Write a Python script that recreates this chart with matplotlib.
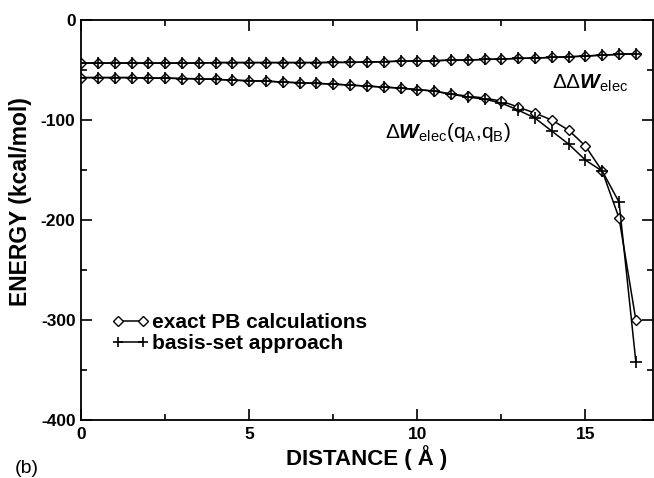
import matplotlib
matplotlib.use("Agg")
import matplotlib.pyplot as plt
from matplotlib.ticker import MultipleLocator

plt.rcParams['font.family'] = ['Liberation Sans', 'DejaVu Sans']
plt.rcParams['axes.unicode_minus'] = False
plt.rcParams['mathtext.fontset'] = 'custom'
plt.rcParams['mathtext.rm'] = 'Liberation Sans'
plt.rcParams['mathtext.it'] = 'Liberation Sans:italic'
plt.rcParams['mathtext.bf'] = 'Liberation Sans:bold'
plt.rcParams['mathtext.bfit'] = 'Liberation Sans:italic:bold'

distance = [0.0, 0.5, 1.0, 1.5, 2.0, 2.5, 3.0, 3.5, 4.0, 4.5, 5.0, 5.5,
            6.0, 6.5, 7.0, 7.5, 8.0, 8.5, 9.0, 9.5, 10.0, 10.5, 11.0, 11.5,
            12.0, 12.5, 13.0, 13.5, 14.0, 14.5, 15.0, 15.5, 16.0, 16.5]

# Delta-Delta W_elec
ddw_exact = [-43, -43, -43, -43, -43, -43, -43, -43, -42.5, -42.5, -42.5, -42.5,
             -42.5, -42.5, -42.5, -42.3, -42.3, -42, -41.7, -41, -41, -40.7, -40, -40,
             -39.3, -39, -38.3, -38, -37.3, -36.7, -36, -35, -34.3, -33.5]
ddw_basis = [-43, -43, -43, -43, -43, -43, -43, -43, -42.5, -42.5, -42.5, -42.5,
             -42.5, -42.5, -42.5, -42.3, -42.3, -42, -41.7, -41, -41, -40.7, -40, -40,
             -39.3, -39, -38.3, -38, -37.3, -36.7, -36, -35, -34.3, -33.5]

# Delta W_elec(qA, qB)
dw_exact = [-57.5, -57.5, -57.5, -57.5, -58, -58, -58.5, -58.7, -59.3, -60, -60.7, -61,
            -62, -62.7, -63.3, -64, -65, -66, -67, -68, -69.5, -71, -74, -76,
            -78, -81, -87, -93, -100, -110, -126, -151, -198, -300]
dw_basis = [-57.5, -57.5, -57.5, -57.5, -58, -58, -58.5, -58.7, -59.3, -60, -60.7, -61,
            -62, -62.7, -63.3, -64, -65, -66, -67, -68, -69.5, -71, -74, -77,
            -79, -83, -90, -98, -111, -124, -140, -151, -182, -342]

fig = plt.figure(figsize=(6.54, 4.78), dpi=100)
ax = fig.add_axes([0.124, 0.121, 0.874, 0.837])

lw = 1.1
ax.plot(distance, ddw_exact, color='black', lw=lw, marker='D', ms=5.5,
        mfc='white', mec='black', mew=1.0, label='exact PB calculations', zorder=3)
ax.plot(distance, ddw_basis, color='black', lw=lw, marker='+', ms=9,
        mew=1.2, label='basis-set approach', zorder=4)
ax.plot(distance, dw_exact, color='black', lw=lw, marker='D', ms=5.5,
        mfc='white', mec='black', mew=1.0, zorder=3)
ax.plot(distance, dw_basis, color='black', lw=lw, marker='+', ms=9,
        mew=1.2, zorder=4)

ax.set_xlim(0, 17)
ax.set_ylim(-400, 0)
ax.xaxis.set_major_locator(MultipleLocator(5))
ax.xaxis.set_minor_locator(MultipleLocator(2.5))
ax.yaxis.set_major_locator(MultipleLocator(100))
ax.yaxis.set_minor_locator(MultipleLocator(50))
ax.tick_params(which='both', direction='in', top=True, right=True, width=1.2)
ax.tick_params(which='major', length=8, labelsize=12.5)
ax.tick_params(axis='x', which='major', pad=5)
ax.tick_params(axis='y', which='major', pad=4)
ax.tick_params(which='minor', length=4.5)
for lab in ax.get_xticklabels() + ax.get_yticklabels():
    lab.set_fontweight('bold')
for sp in ax.spines.values():
    sp.set_linewidth(1.3)

ax.set_xlabel('DISTANCE ( Å )', fontsize=16, fontweight='bold')
ax.xaxis.set_label_coords(0.5, -0.1125)
ax.xaxis.label.set_va('baseline')
ax.set_ylabel('ENERGY (kcal/mol)', fontsize=16.5, fontweight='bold')
ax.yaxis.set_label_coords(-0.1066, 0.5475)
ax.yaxis.label.set_va('center')

fig.text(0.023, 0.0105, '(b)', fontsize=14, va='baseline')

ax.text(14.0, -69, r'$\Delta\Delta\mathbfit{W}_{\mathrm{elec}}$', fontsize=15,
        ha='left', va='baseline')
ax.text(9.05, -118, r'$\Delta\mathbfit{W}_{\mathrm{elec}}\mathrm{(q_A{,}q_B)}$', fontsize=15,
        ha='left', va='baseline')

leg = ax.legend(loc='center left', bbox_to_anchor=(0.054, 0.2175), frameon=False,
                numpoints=2, handlelength=1.78, handletextpad=0.15, labelspacing=0.1,
                borderpad=0, borderaxespad=0, markerscale=0.85,
                prop={'weight': 'bold', 'size': 15})

fig.savefig('out.png', dpi=100)
